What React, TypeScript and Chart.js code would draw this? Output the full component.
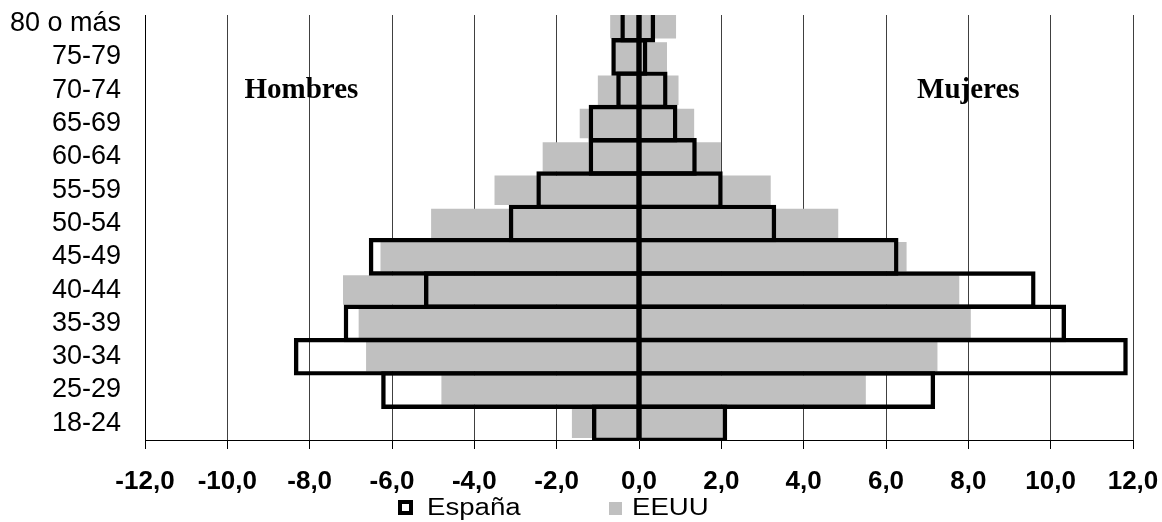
import React, { useEffect, useRef } from 'react';
import { Chart, registerables } from 'chart.js';

Chart.register(...registerables);

// ---- Data ----
const categories = ['80 o más', '75-79', '70-74', '65-69', '60-64', '55-59', '50-54', '45-49', '40-44', '35-39', '30-34', '25-29', '18-24'];

// Hombres on the left (negative), Mujeres on the right (positive)
const espanaHombres = [-0.40, -0.62, -0.50, -1.17, -1.17, -2.44, -3.11, -6.51, -5.17, -7.12, -8.33, -6.21, -1.09];
const espanaMujeres = [0.34, 0.15, 0.64, 0.88, 1.35, 1.98, 3.28, 6.25, 9.58, 10.32, 11.82, 7.14, 2.09];
const eeuuHombres = [-0.70, -0.58, -1.00, -1.44, -2.34, -3.51, -5.05, -6.28, -7.19, -6.81, -6.63, -4.80, -1.63];
const eeuuMujeres = [0.90, 0.68, 0.96, 1.34, 1.99, 3.20, 4.84, 6.50, 7.78, 8.06, 7.25, 5.51, 2.05];

const seriesNames = ['España', 'EEUU'];
const xMin = -12;
const xMax = 12;
const xStep = 2;

const sideLabels = ['Hombres', 'Mujeres'];
const sideLabelX = [-8.2, 8.0];
const sideLabelRow = '70-74';

const SANS = '"Liberation Sans", Arial, Helvetica, sans-serif';
const SERIF = '"Liberation Serif", "Times New Roman", serif';

const EEUU_GRAY = '#c0c0c0';

export default function App() {
  const ref = useRef<HTMLCanvasElement>(null);

  useEffect(() => {
    if (!ref.current) return;

    const sideLabelsPlugin = {
      id: 'sideLabels',
      afterDatasetsDraw(chart: any) {
        const { ctx, scales } = chart;
        const x = scales.x;
        const y = scales.y;
        ctx.save();
        ctx.font = `bold 29px ${SERIF}`;
        ctx.fillStyle = '#000';
        ctx.textAlign = 'center';
        ctx.textBaseline = 'middle';
        const row = categories.indexOf(sideLabelRow);
        sideLabels.forEach((t, i) => {
          ctx.fillText(t, x.getPixelForValue(sideLabelX[i]), y.getPixelForValue(row));
        });
        ctx.restore();
      },
    };

    const espanaStyle = {
      backgroundColor: 'rgba(0,0,0,0)',
      borderColor: '#000',
      borderWidth: 0.01,
      inflateAmount: 2.2,
      borderSkipped: false,
      barPercentage: 1,
      categoryPercentage: 1,
      grouped: false,
      clip: 0,
    };
    const eeuuStyle = {
      backgroundColor: EEUU_GRAY,
      borderWidth: 0,
      barPercentage: 0.886,
      categoryPercentage: 1,
      grouped: false,
      clip: 0,
    };

    const chart = new Chart(ref.current, {
      type: 'bar',
      data: {
        labels: categories,
        datasets: [
          { label: seriesNames[0], data: espanaHombres, ...espanaStyle },
          { label: seriesNames[0], data: espanaMujeres, ...espanaStyle },
          { label: seriesNames[1], data: eeuuHombres, ...eeuuStyle },
          { label: seriesNames[1], data: eeuuMujeres, ...eeuuStyle },
        ] as any,
      },
      options: {
        indexAxis: 'y',
        responsive: false,
        maintainAspectRatio: false,
        animation: false,
        events: [],
        layout: { padding: { left: 0, right: 29, top: 0, bottom: 0 } },
        scales: {
          x: {
            type: 'linear',
            min: xMin,
            max: xMax,
            ticks: {
              stepSize: xStep,
              autoSkip: false,
              maxRotation: 0,
              padding: 17,
              color: '#000',
              font: { family: SANS, size: 26, weight: 'bold' },
              callback: (v: any) => Number(v).toFixed(1).replace('.', ','),
            },
            grid: { color: '#404040', lineWidth: 1, drawTicks: true, tickLength: 9, tickColor: '#000' },
            border: { display: true, color: '#000', width: 1 },
            afterFit(scale: any) {
              scale.height = 60;
              scale.paddingLeft = 0;
              scale.paddingRight = 0;
            },
          },
          y: {
            type: 'category',
            ticks: {
              autoSkip: false,
              padding: 24,
              color: '#000',
              font: { family: SANS, size: 27 },
            },
            grid: { display: false, drawTicks: false },
            border: { display: true, color: '#000', width: 1 },
            afterFit(scale: any) {
              scale.width = 165;
              scale.paddingTop = 0;
              scale.paddingBottom = 0;
            },
          },
        },
        plugins: {
          tooltip: { enabled: false },
          title: { display: false },
          legend: { display: false },
        },
      } as any,
      plugins: [sideLabelsPlugin],
    });

    return () => chart.destroy();
  }, []);

  const legendText: React.CSSProperties = {
    position: 'absolute',
    top: 496,
    fontFamily: SANS,
    fontSize: 23,
    lineHeight: '23px',
    color: '#000',
    whiteSpace: 'nowrap',
    transform: 'scaleX(1.2)',
    transformOrigin: 'left center',
  };

  return (
    <div style={{ position: 'fixed', left: 0, top: 0, width: 1162, height: 522, overflow: 'hidden', background: '#fff' }}>
      <canvas
        ref={ref}
        width={1182}
        height={493}
        style={{
          position: 'absolute',
          left: -20,
          top: 7,
          width: 1182,
          height: 493,
          clipPath: 'polygon(0 0, 164px 0, 164px 8px, 100% 8px, 100% 100%, 0 100%)',
        }}
      />
      {/* Legend */}
      <div style={{ position: 'absolute', left: 398, top: 500, width: 15, height: 15, boxSizing: 'border-box', border: '4px solid #000', background: '#fff' }} />
      <span style={{ ...legendText, left: 427 }}>{seriesNames[0]}</span>
      <div style={{ position: 'absolute', left: 609, top: 502, width: 13, height: 13, background: EEUU_GRAY }} />
      <span style={{ ...legendText, left: 632 }}>{seriesNames[1]}</span>
    </div>
  );
}
